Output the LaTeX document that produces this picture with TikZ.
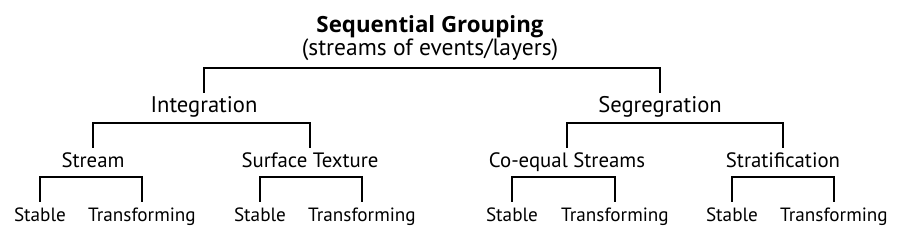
\documentclass[tikz,border=0pt]{standalone}
\usepackage{fontspec}
\setmainfont{PT Sans}
\newfontfamily\titlefont{Open Sans}
\begin{document}
\begin{tikzpicture}[x=1pt,y=-1pt,
  lbl/.style={anchor=base,inner sep=0pt,outer sep=0pt,text height=20pt,text depth=5pt,font=\fontsize{19.2}{20}\selectfont},
  lvlone/.style={lbl,font=\fontsize{22.6}{24}\selectfont},
  lvltwo/.style={lbl,font=\fontsize{20.8}{22}\selectfont},
  ttl/.style={anchor=base,inner sep=0pt,font=\titlefont\fontsize{22.3}{24}\selectfont\bfseries},
  subttl/.style={anchor=base,inner sep=0pt,font=\fontsize{23.5}{25}\selectfont},
  brk/.style={line width=1.8pt,line cap=rect}]
\useasboundingbox[fill=white] (0,0) rectangle (900,236);
\node[ttl] (title) at (430,32.5) {Sequential Grouping};
\node[subttl] (sub) at (430,55) {(streams of events/layers)};
\node[lvlone] (int) at (204,112) {Integration};
\node[lvlone] (seg) at (660,112) {Segregration};
\node[lvltwo] (str) at (93,167) {Stream};
\node[lvltwo] (sur) at (310,167) {Surface Texture};
\node[lvltwo] (coe) at (567,167) {Co-equal Streams};
\node[lvltwo] (stf) at (783,167) {Stratification};
\node[lbl] (s1) at (40,221) {Stable};
\node[lbl] (t1) at (142,221) {Transforming};
\node[lbl] (s2) at (260,221) {Stable};
\node[lbl] (t2) at (362,221) {Transforming};
\node[lbl] (s3) at (512,221) {Stable};
\node[lbl] (t3) at (615,221) {Transforming};
\node[lbl] (s4) at (732,221) {Stable};
\node[lbl] (t4) at (834,221) {Transforming};
\draw[brk] (int.north) -- ++(0,-24) -| (seg.north);
\draw[brk] (str.north) -- ++(0,-24) -| (sur.north);
\draw[brk] (coe.north) -- ++(0,-24) -| (stf.north);
\draw[brk] (s1.north) -- ++(0,-24) -| (t1.north);
\draw[brk] (s2.north) -- ++(0,-24) -| (t2.north);
\draw[brk] (s3.north) -- ++(0,-24) -| (t3.north);
\draw[brk] (s4.north) -- ++(0,-24) -| (t4.north);
\end{tikzpicture}
\end{document}
